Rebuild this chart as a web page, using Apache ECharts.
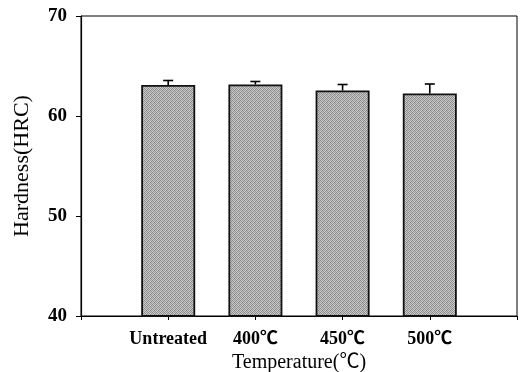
<!DOCTYPE html>
<html>
<head>
<meta charset="utf-8">
<script src="https://cdn.jsdelivr.net/npm/echarts@6/dist/echarts.min.js"></script>
<style>
  html, body { margin: 0; padding: 0; background: #fff; }
  #chart { width: 520px; height: 372px; }
</style>
</head>
<body>
<div id="chart"></div>
<script>
// Hardness of samples after tempering at different temperatures
const categories = ['Untreated', '400℃', '450℃', '500℃'];
const hardness = [63.1, 63.15, 62.55, 62.25];
const hardnessErr = [0.45, 0.3, 0.6, 0.95];
const yTicks = [40, 50, 60, 70];

// Stippled gray fill for the bars
function stipple() {
  const c = document.createElement('canvas');
  c.width = 4; c.height = 4;
  const ctx = c.getContext('2d');
  const shades = [
    ['#858585', '#cccccc', '#9a9a9a', '#c0c0c0'],
    ['#c4c4c4', '#939393', '#d0d0d0', '#8a8a8a'],
    ['#9e9e9e', '#c8c8c8', '#828282', '#bcbcbc'],
    ['#cecece', '#8e8e8e', '#c2c2c2', '#989898']
  ];
  for (let r = 0; r < 4; r++) for (let k = 0; k < 4; k++) {
    ctx.fillStyle = shades[r][k];
    ctx.fillRect(k, r, 1, 1);
  }
  return c;
}

const barData = hardness.map((v, i) => [i + 1, v]);
const errData = hardness.map((v, i) => [i + 1, v, v + hardnessErr[i]]);

const chart = echarts.init(document.getElementById('chart'), null, { renderer: 'canvas' });
const serif = '"Liberation Serif", "Noto Sans CJK SC", "DejaVu Serif", serif';

chart.setOption({
  animation: false,
  grid: {
    left: 81, right: 3, top: 16, bottom: 56,
    containLabel: false, outerBoundsMode: 'none',
    show: true, borderColor: '#000', borderWidth: 1
  },
  xAxis: {
    type: 'value', min: 0, max: 5, interval: 1,
    name: 'Temperature(℃)', nameLocation: 'middle', nameGap: 34,
    nameTextStyle: { fontFamily: serif, fontSize: 20, color: '#000' },
    axisLine: { lineStyle: { color: '#000', width: 1.2 } },
    axisTick: { show: true, length: 4, lineStyle: { color: '#000' } },
    splitLine: { show: false },
    axisLabel: {
      margin: 14, fontFamily: serif, fontWeight: 'bold', fontSize: 18, color: '#000',
      formatter: v => (v >= 1 && v <= categories.length) ? categories[v - 1] : ''
    }
  },
  yAxis: {
    type: 'value', min: yTicks[0], max: yTicks[yTicks.length - 1], interval: 10,
    name: 'Hardness(HRC)', nameLocation: 'middle', nameGap: 48,
    nameTextStyle: { fontFamily: serif, fontSize: 22, color: '#000' },
    axisLine: { show: true, lineStyle: { color: '#000', width: 1.2 } },
    axisTick: { show: true, length: 5, lineStyle: { color: '#000' } },
    splitLine: { show: false },
    axisLabel: { margin: 14, fontFamily: serif, fontWeight: 'bold', fontSize: 19, color: '#000' }
  },
  series: [
    {
      type: 'bar',
      data: barData,
      barWidth: 54,
      itemStyle: {
        color: { image: stipple(), repeat: 'repeat' },
        borderColor: '#111', borderWidth: 1.8
      },
      z: 2
    },
    {
      type: 'custom',
      data: errData,
      z: 3,
      renderItem: function (params, api) {
        const x = api.value(0);
        const top = api.coord([x, api.value(2)]);
        const base = api.coord([x, api.value(1)]);
        const hw = 5;
        return {
          type: 'group',
          children: [
            { type: 'line', shape: { x1: top[0], y1: top[1], x2: base[0], y2: base[1] },
              style: { stroke: '#000', lineWidth: 1.6 } },
            { type: 'line', shape: { x1: top[0] - hw, y1: top[1], x2: top[0] + hw, y2: top[1] },
              style: { stroke: '#000', lineWidth: 1.6 } }
          ]
        };
      }
    }
  ]
});
</script>
</body>
</html>
